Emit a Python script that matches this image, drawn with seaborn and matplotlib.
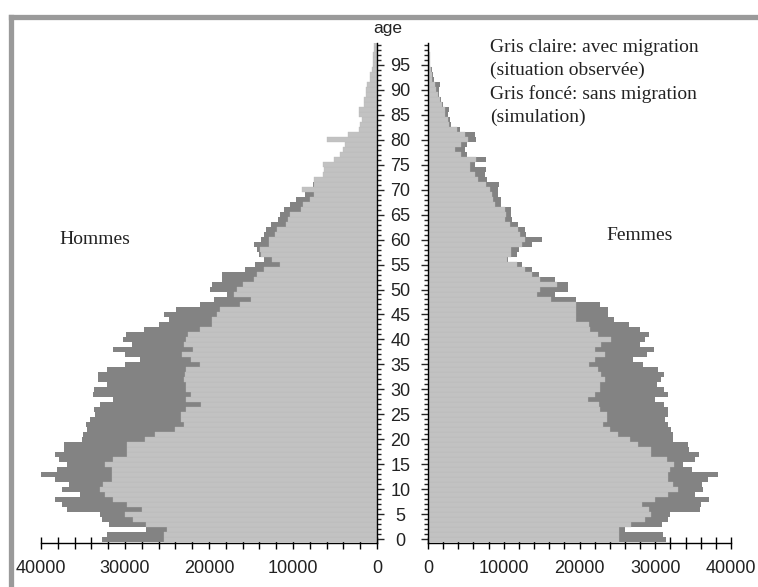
import matplotlib
matplotlib.use("Agg")
import matplotlib.pyplot as plt
from matplotlib.lines import Line2D
from matplotlib.ticker import MultipleLocator
import seaborn as sns
import numpy as np

# ---------------------------------------------
# Données : effectifs par âge (0 à 99 ans)
# ---------------------------------------------
ages = list(range(100))

hommes_avec = [
    25400, 25400, 25000, 27500, 29000, 30000, 28000, 29800, 31400, 32400,
    33000, 32600, 31600, 31500, 31600, 32400, 31400, 29800, 29800, 29800,
    27600, 26400, 24100, 23000, 23300, 23300, 22700, 21000, 22700, 22100,
    22700, 22700, 23000, 22900, 22700, 21100, 22100, 23200, 21900, 23000,
    22700, 22500, 21100, 19600, 19600, 19100, 18700, 16300, 15000, 17000,
    16700, 16000, 14700, 14300, 13500, 11500, 12500, 13800, 13900, 12800,
    12800, 12100, 11900, 10800, 10600, 10400, 9000, 8800, 8000, 7500,
    8900, 7500, 7500, 6400, 6300, 6400, 5100, 4400, 4000, 3800,
    6000, 3400, 2200, 2000, 1800, 2200, 2100, 1600, 1600, 1300,
    1300, 1200, 830, 800, 600, 520, 500, 500, 400, 300]

hommes_sans = [
    32700, 32100, 27500, 31900, 32700, 33000, 36900, 37500, 38300, 35400,
    37500, 36700, 38300, 40500, 38100, 36900, 37900, 38300, 37300, 37300,
    35100, 35000, 34500, 34600, 34200, 33600, 33700, 33000, 31400, 33800,
    33700, 32200, 33200, 33200, 32200, 30000, 28200, 30000, 31400, 29200,
    30200, 29900, 27700, 25900, 24800, 25400, 23900, 21100, 19400, 17900,
    19900, 19600, 18500, 18400, 15700, 14500, 13500, 14000, 14300, 14700,
    13800, 13400, 13200, 12600, 11800, 11500, 11100, 10400, 9600, 8600,
    8200, 7600, 7500, 6200, 6100, 6200, 5000, 4300, 3900, 3700,
    5800, 3300, 2100, 1900, 1700, 2100, 2000, 1500, 1500, 1200,
    1200, 1100, 800, 750, 550, 500, 450, 450, 350, 250]

femmes_avec = [
    25200, 25200, 25200, 26800, 28600, 29500, 29200, 28200, 30000, 31700,
    33000, 32400, 31700, 31650, 32000, 32500, 31500, 29500, 29500, 27700,
    26700, 25100, 24000, 23100, 23600, 23600, 22700, 22600, 21100, 22000,
    22700, 22700, 23400, 22900, 22500, 21200, 22000, 23400, 22000, 22900,
    24200, 22500, 21400, 21200, 19600, 19600, 19600, 19600, 16300, 14350,
    14800, 17000, 14800, 13700, 12800, 11800, 10400, 11000, 11000, 12400,
    12800, 12100, 11900, 10800, 10200, 10300, 10200, 8900, 8600, 8400,
    8200, 7700, 6600, 6200, 5500, 5500, 6400, 4400, 3600, 4400,
    5300, 4900, 3800, 2800, 2600, 2300, 2200, 1800, 1600, 1300,
    1100, 900, 570, 480, 350, 260, 220, 200, 170, 130]

femmes_sans = [
    31400, 31000, 26000, 30900, 31700, 31900, 35900, 36100, 37100, 35200,
    36300, 36200, 37000, 38300, 34800, 33700, 35300, 35800, 34500, 34300,
    32400, 32400, 32100, 31700, 31300, 31700, 31700, 31200, 30000, 31700,
    31100, 30200, 30800, 31200, 30400, 28400, 27100, 28900, 29800, 28000,
    28600, 29200, 28000, 26500, 24600, 23700, 23800, 22700, 19600, 16800,
    18500, 18500, 16800, 14600, 13700, 12400, 10600, 11700, 12000, 13700,
    15000, 13000, 12800, 11900, 11100, 11000, 10950, 9700, 9600, 9200,
    9300, 9400, 7800, 7500, 7600, 6200, 7600, 5100, 4900, 5100,
    6400, 6200, 4200, 3100, 2900, 2600, 2800, 2000, 1700, 1500,
    1400, 1600, 800, 700, 500, 300, 200, 180, 150, 120]

age_ticks = list(range(0, 100, 5))
x_ticks = [0, 10000, 20000, 30000, 40000]

GRIS_CLAIR = "#c2c2c2"
GRIS_FONCE = "#838383"
TXT = "#222222"

sns.set_style("white")
plt.rcParams["font.family"] = ["Liberation Sans", "DejaVu Sans"]

W, H = 758, 587
fig = plt.figure(figsize=(W / 100, H / 100), dpi=100)

def fx(px):
    return px / W

def fy(py):
    return 1 - py / H

ax_l = fig.add_axes([fx(41), fy(543), (377 - 41) / W, (543 - 43) / H])
ax_r = fig.add_axes([fx(428), fy(543), (731 - 428) / W, (543 - 43) / H])

for ax, sans, avec in [(ax_l, hommes_sans, hommes_avec), (ax_r, femmes_sans, femmes_avec)]:
    sns.barplot(x=sans, y=ages, orient="h", native_scale=True, color=GRIS_FONCE,
                saturation=1, width=1, errorbar=None, linewidth=0, ax=ax)
    sns.barplot(x=avec, y=ages, orient="h", native_scale=True, color=GRIS_CLAIR,
                saturation=1, width=1, errorbar=None, linewidth=0.25,
                edgecolor="#b9b9b9", ax=ax)
    ax.set_ylim(-0.8, 99.4)
    ax.set_xlim(0, 40000)
    ax.set_xlabel("")
    ax.set_ylabel("")
    ax.set_xticks(x_ticks)
    ax.set_xticklabels([str(v) for v in x_ticks])
    ax.xaxis.set_minor_locator(MultipleLocator(2000))
    ax.tick_params(axis="x", which="both", bottom=True, direction="inout", length=8,
                   width=1, color="black", labelsize=13, labelcolor=TXT, pad=8)
    ax.yaxis.set_minor_locator(MultipleLocator(1))
    ax.set_yticks(age_ticks)
    ax.set_facecolor("none")
    for s in ax.spines.values():
        s.set_color("black")
        s.set_linewidth(1.0)

# Hommes : axe inversé, graduations à droite
ax_l.invert_xaxis()
ax_l.spines["left"].set_visible(False)
ax_l.spines["top"].set_visible(False)
ax_l.yaxis.tick_right()
ax_l.tick_params(axis="y", which="major", direction="out", length=5, width=1,
                 right=True, labelright=False)
ax_l.tick_params(axis="y", which="minor", direction="out", length=3, width=1, right=True)

# Femmes : graduations à gauche avec les âges
ax_r.spines["right"].set_visible(False)
ax_r.spines["top"].set_visible(False)
ax_r.yaxis.tick_left()
ax_r.tick_params(axis="y", which="major", direction="out", length=5, width=1, left=True,
                 labelsize=13, labelcolor=TXT, pad=15)
ax_r.tick_params(axis="y", which="minor", direction="out", length=3, width=1, left=True)
ax_r.set_yticklabels([str(a) for a in age_ticks])
for lbl in ax_r.get_yticklabels():
    lbl.set_horizontalalignment("center")

# Textes
fig.text(fx(388), fy(28), "age", ha="center", va="center", fontsize=12.5, color=TXT)
serif = ["Liberation Serif", "DejaVu Serif"]
lignes = ["Gris claire: avec migration", "(situation observée)",
          "Gris foncé: sans migration", "(simulation)"]
for i, t in enumerate(lignes):
    fig.text(fx(490), fy(47 + 23.3 * i), t, ha="left", va="center", fontsize=14,
             family=serif, color=TXT)
fig.text(fx(95), fy(239), "Hommes", ha="center", va="center", fontsize=14, family=serif, color=TXT)
fig.text(fx(640), fy(236), "Femmes", ha="center", va="center", fontsize=14, family=serif, color=TXT)

# Cadre gris (bord gauche et haut)
cadre = "#9a9a9a"
fig.add_artist(Line2D([fx(10.5), fx(10.5)], [0, fy(16.5)], color=cadre, linewidth=3.8,
                      solid_capstyle="projecting", transform=fig.transFigure))
fig.add_artist(Line2D([fx(10.5), 1], [fy(16.5), fy(16.5)], color=cadre, linewidth=3.8,
                      solid_capstyle="projecting", transform=fig.transFigure))

fig.savefig("out.png", dpi=100)
